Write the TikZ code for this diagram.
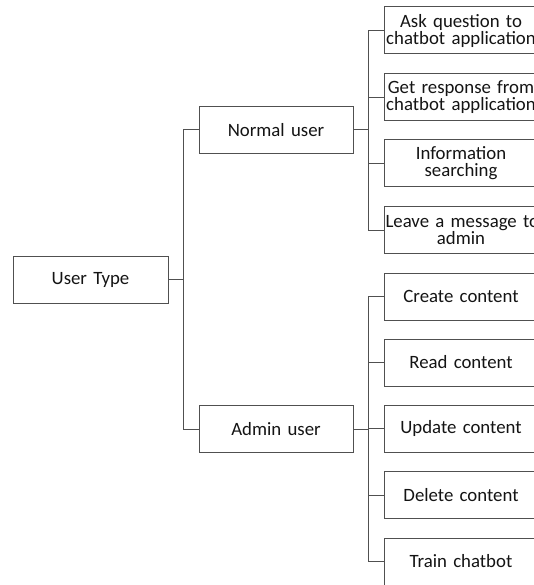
\documentclass[tikz,border=0pt]{standalone}
\usepackage{fontspec}
\setmainfont{Carlito}
\definecolor{edgegray}{RGB}{80,80,80}
\definecolor{inkgray}{RGB}{20,20,20}
\begin{document}
\begin{tikzpicture}[x=1pt,y=-1pt,
  boxnode/.style={draw=edgegray, line width=1pt, fill=white, text=inkgray,
    minimum width=154pt, minimum height=47pt, inner xsep=1.5pt, inner ysep=0pt,
    text width=151pt, align=center,
    font=\fontsize{18.8pt}{17pt}\selectfont},
  link/.style={draw=edgegray, line width=1pt}]
\clip (0,0) rectangle (534,585);
\fill[white] (0,0) rectangle (534,585);

% root and first level
\node[boxnode, minimum width=155pt] (ut) at (90.5,279.5) {User Type};
\node[boxnode] (nu) at (276,130) {Normal user};
\node[boxnode] (au) at (276,429) {Admin user};

% normal user tasks
\node[boxnode] (n1) at (461,30.5) {\mbox{Ask question to}\\\mbox{chatbot application}};
\node[boxnode] (n2) at (461,97.5) {\mbox{Get response from}\\\mbox{chatbot application}};
\node[boxnode] (n3) at (461,163.5) {Information\\searching};
\node[boxnode] (n4) at (461,230) {\mbox{Leave a message to}\\admin};

% admin user tasks
\node[boxnode] (a1) at (461,296.5) {Create content};
\node[boxnode] (a2) at (461,362.5) {Read content};
\node[boxnode] (a3) at (461,428.5) {Update content};
\node[boxnode] (a4) at (461,495) {Delete content};
\node[boxnode] (a5) at (461,561.5) {Train chatbot};

% bus points
\coordinate (b0) at (183,279.5);
\coordinate (bn) at (368,130);
\coordinate (ba) at (368,429);

\draw[link] (ut.east) -- (b0);
\draw[link] (b0) |- (nu.west);
\draw[link] (b0) |- (au.west);

\draw[link] (nu.east) -- (bn);
\foreach \t in {n1,n2,n3,n4} \draw[link] (bn) |- (\t.west);

\draw[link] (au.east) -- (ba);
\foreach \t in {a1,a2,a3,a4,a5} \draw[link] (ba) |- (\t.west);
\end{tikzpicture}
\end{document}
